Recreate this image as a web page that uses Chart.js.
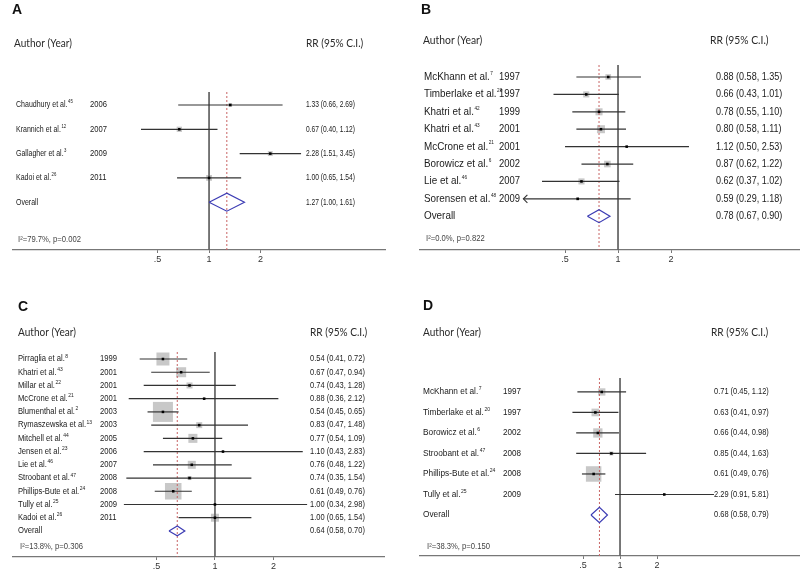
<!DOCTYPE html>
<html><head><meta charset="utf-8">
<script src="https://cdn.jsdelivr.net/npm/chart.js@4.4.1/dist/chart.umd.min.js"></script>
<style>
html,body{margin:0;padding:0;background:#fff;width:800px;height:577px;overflow:hidden}
.p{position:absolute}
canvas{display:block}
</style></head><body>
<div class="p" style="left:0;top:0"><canvas id="cA" width="400" height="288"></canvas></div>
<div class="p" style="left:400px;top:0"><canvas id="cB" width="400" height="288"></canvas></div>
<div class="p" style="left:0;top:288px"><canvas id="cC" width="400" height="289"></canvas></div>
<div class="p" style="left:400px;top:288px"><canvas id="cD" width="400" height="289"></canvas></div>
<script>
// ---------- shared axis ticks ----------
const tickValues = [0.5, 1, 2];
const tickLabels = [".5", "1", "2"];

// ---------- Panel A ----------
const aAuthors = ["Chaudhury et al.", "Krannich et al.", "Gallagher et al.", "Kadoi et al."];
const aRefs = ["45", "12", "3", "26"];
const aYears = ["2006", "2007", "2009", "2011"];
const aRR = [1.33, 0.67, 2.28, 1.00];
const aLow = [0.66, 0.40, 1.51, 0.65];
const aHigh = [2.69, 1.12, 3.45, 1.54];
const aWeights = [14, 28, 24, 34];
const aOverall = [1.27, 1.00, 1.61];
const aStats = "I\u00B2=79.7%, p=0.002";

// ---------- Panel B ----------
const bAuthors = ["McKhann et al.", "Timberlake et al.", "Khatri et al.", "Khatri et al.", "McCrone et al.", "Borowicz et al.", "Lie et al.", "Sorensen et al."];
const bRefs = ["7", "20", "42", "43", "21", "6", "46", "48"];
const bYears = ["1997", "1997", "1999", "2001", "2001", "2002", "2007", "2009"];
const bRR = [0.88, 0.66, 0.78, 0.80, 1.12, 0.87, 0.62, 0.59];
const bLow = [0.58, 0.43, 0.55, 0.58, 0.50, 0.62, 0.37, 0.29];
const bHigh = [1.35, 1.01, 1.10, 1.11, 2.53, 1.22, 1.02, 1.18];
const bWeights = [11.6, 13.5, 18.1, 23.2, 1.3, 15.8, 13.5, 2.9];
const bOverall = [0.78, 0.67, 0.90];
const bStats = "I\u00B2=0.0%, p=0.822";
const bArrowRows = [7];

// ---------- Panel C ----------
const cAuthors = ["Pirraglia et al.", "Khatri et al.", "Millar et al.", "McCrone et al.", "Blumenthal et al.", "Rymaszewska et al.", "Mitchell et al.", "Jensen et al.", "Lie et al.", "Stroobant et al.", "Phillips-Bute et al.", "Tully et al.", "Kadoi et al."];
const cRefs = ["8", "43", "22", "21", "2", "13", "44", "23", "46", "47", "24", "25", "26"];
const cYears = ["1999", "2001", "2001", "2001", "2003", "2003", "2005", "2006", "2007", "2008", "2008", "2009", "2011"];
const cRR = [0.54, 0.67, 0.74, 0.88, 0.54, 0.83, 0.77, 1.10, 0.76, 0.74, 0.61, 1.00, 1.00];
const cLow = [0.41, 0.47, 0.43, 0.36, 0.45, 0.47, 0.54, 0.43, 0.48, 0.35, 0.49, 0.34, 0.65];
const cHigh = [0.72, 0.94, 1.28, 2.12, 0.65, 1.48, 1.09, 2.83, 1.22, 1.54, 0.76, 2.98, 1.54];
const cWeights = [13.5, 8.0, 2.9, 0.3, 32.0, 2.9, 6.5, 0.3, 5.1, 1.3, 21.8, 0.3, 5.1];
const cOverall = [0.64, 0.58, 0.70];
const cStats = "I\u00B2=13.8%, p=0.306";

// ---------- Panel D ----------
const dAuthors = ["McKhann et al.", "Timberlake et al.", "Borowicz et al.", "Stroobant et al.", "Phillips-Bute et al.", "Tully et al."];
const dRefs = ["7", "20", "6", "47", "24", "25"];
const dYears = ["1997", "1997", "2002", "2008", "2008", "2009"];
const dRR = [0.71, 0.63, 0.66, 0.85, 0.61, 2.29];
const dLow = [0.45, 0.41, 0.44, 0.44, 0.49, 0.91];
const dHigh = [1.12, 0.97, 0.98, 1.63, 0.76, 5.81];
const dWeights = [11.6, 12.9, 18.8, 3.5, 52.4, 0.9];
const dOverall = [0.68, 0.58, 0.79];
const dStats = "I\u00B2=38.3%, p=0.150";

// ---------- layout / style (not data) ----------
const panels = [
  { id: "cA", letter: "A", authors: aAuthors, refs: aRefs, years: aYears, rr: aRR, lo: aLow, hi: aHigh, w: aWeights, ov: aOverall, stats: aStats, arrows: [],
    pad: { left: 13, right: 15, top: 92, bottom: 18 }, xmin: 0.0714, xmax: 10.68, ymin: -0.535, ymax: 5.967, boxK: 1.0,
    letterPos: [12, 10], headY: 43, headX: 14, rrHeadX: 306, xAuthor: 16, xYear: 90, xRR: 306, statsPos: [18, 240],
    fs: 9, supFs: 5.5, aSx: 0.78, ySx: 0.85, rSx: 0.74, headSx: 0.84 },
  { id: "cB", letter: "B", authors: bAuthors, refs: bRefs, years: bYears, rr: bRR, lo: bLow, hi: bHigh, w: bWeights, ov: bOverall, stats: bStats, arrows: bArrowRows,
    pad: { left: 20, right: 0, top: 65, bottom: 18 }, xmin: 0.0750, xmax: 10.81, ymin: -0.69, ymax: 9.94, boxK: 1.66,
    letterPos: [21, 10], headY: 40.5, headX: 23, rrHeadX: 310, xAuthor: 24, xYear: 99, xRR: 316, statsPos: [26, 239],
    fs: 10.5, supFs: 5, aSx: 0.94, ySx: 0.9, rSx: 0.86, headSx: 0.86 },
  { id: "cC", letter: "C", authors: cAuthors, refs: cRefs, years: cYears, rr: cRR, lo: cLow, hi: cHigh, w: cWeights, ov: cOverall, stats: cStats, arrows: [],
    pad: { left: 13, right: 16, top: 64, bottom: 0 }, xmin: 0.0914, xmax: 7.41, ymin: -0.53, ymax: 14.97, boxK: 3.54,
    letterPos: [18, 19.5], headY: 44.5, headX: 18, rrHeadX: 310, xAuthor: 18, xYear: 100, xRR: 310, statsPos: [20, 259],
    fs: 8.5, supFs: 5.5, aSx: 0.9, ySx: 0.9, rSx: 0.88, headSx: 0.84 },
  { id: "cD", letter: "D", authors: dAuthors, refs: dRefs, years: dYears, rr: dRR, lo: dLow, hi: dHigh, w: dWeights, ov: dOverall, stats: dStats, arrows: [],
    pad: { left: 20, right: 0, top: 90, bottom: 1 }, xmin: 0.0236, xmax: 29.1, ymin: -0.68, ymax: 8.0, boxK: 2.14,
    letterPos: [23, 18], headY: 44, headX: 23, rrHeadX: 311, xAuthor: 23, xYear: 103, xRR: 314, statsPos: [27, 259],
    fs: 9, supFs: 5.5, aSx: 0.92, ySx: 0.9, rSx: 0.83, headSx: 0.84 }
];

const fmt = (v) => v.toFixed(2);
const LABEL_FONT = "'Liberation Sans', Arial, sans-serif";
const HEAD_FONT = "Lato, 'Open Sans', sans-serif";

function drawText(ctx, txt, x, y, font, sx, color) {
  ctx.save();
  ctx.font = font;
  ctx.fillStyle = color || "#1a1a1a";
  ctx.textBaseline = "middle";
  ctx.textAlign = "left";
  ctx.translate(x, y);
  ctx.scale(sx, 1);
  ctx.fillText(txt, 0, 0);
  const w = ctx.measureText(txt).width * sx;
  ctx.restore();
  return w;
}

function makeTextPlugin(p) {
  return {
    id: "forestText" + p.letter,
    afterDraw(chart) {
      const ctx = chart.ctx;
      const ys = chart.scales.y;
      const xs = chart.scales.x;
      drawText(ctx, p.letter, p.letterPos[0], p.letterPos[1], "bold 14px " + LABEL_FONT, 1, "#111");
      drawText(ctx, "Author (Year)", p.headX, p.headY, "12px " + HEAD_FONT, p.headSx, "#2a2a2a");
      drawText(ctx, "RR (95% C.I.)", p.rrHeadX, p.headY, "12px " + HEAD_FONT, p.headSx, "#2a2a2a");
      const f = p.fs + "px " + LABEL_FONT;
      const sf = p.supFs + "px " + LABEL_FONT;
      p.authors.forEach((a, i) => {
        const py = ys.getPixelForValue(i);
        const w = drawText(ctx, a, p.xAuthor, py, f, p.aSx);
        drawText(ctx, p.refs[i], p.xAuthor + w + 0.5, py - p.fs * 0.35, sf, p.aSx);
        drawText(ctx, p.years[i], p.xYear, py, f, p.ySx);
        drawText(ctx, fmt(p.rr[i]) + " (" + fmt(p.lo[i]) + ", " + fmt(p.hi[i]) + ")", p.xRR, py, f, p.rSx);
      });
      const n = p.authors.length;
      const oy = ys.getPixelForValue(n);
      drawText(ctx, "Overall", p.xAuthor, oy, f, p.aSx);
      drawText(ctx, fmt(p.ov[0]) + " (" + fmt(p.ov[1]) + ", " + fmt(p.ov[2]) + ")", p.xRR, oy, f, p.rSx);
      drawText(ctx, p.stats, p.statsPos[0], p.statsPos[1], "8.5px " + LABEL_FONT, 0.9, "#444");
      // arrow marks for truncated confidence intervals
      p.arrows.forEach((i) => {
        const px = xs.getPixelForValue(p.lo[i]);
        const py = ys.getPixelForValue(i);
        ctx.save();
        ctx.strokeStyle = "#333";
        ctx.lineWidth = 1.1;
        ctx.beginPath();
        ctx.moveTo(px + 4, py - 4);
        ctx.lineTo(px, py);
        ctx.lineTo(px + 4, py + 4);
        ctx.stroke();
        ctx.restore();
      });
    }
  };
}

function buildChart(p) {
  const n = p.authors.length;
  const datasets = [];
  // weight boxes
  datasets.push({
    data: p.rr.map((v, i) => ({ x: v, y: i })),
    pointStyle: "rect",
    pointRadius: p.w.map((w) => p.boxK * Math.sqrt(w) / Math.SQRT2),
    pointBackgroundColor: "#c8c8c8",
    pointBorderWidth: 0,
    showLine: false,
    order: 6
  });
  // confidence interval lines
  p.rr.forEach((v, i) => {
    datasets.push({
      data: [{ x: p.lo[i], y: i }, { x: p.hi[i], y: i }],
      showLine: true, borderColor: "#333", borderWidth: 1.2, pointRadius: 0, order: 3
    });
  });
  // point estimates
  datasets.push({
    data: p.rr.map((v, i) => ({ x: v, y: i })),
    pointStyle: "rect", pointRadius: 1.8, pointBackgroundColor: "#000", pointBorderWidth: 0,
    showLine: false, order: 1
  });
  // null line at RR = 1
  datasets.push({
    data: [{ x: 1, y: p.ymin }, { x: 1, y: p.ymax }],
    showLine: true, borderColor: "#666", borderWidth: 1, pointRadius: 0, order: 5
  });
  // overall effect dashed line
  datasets.push({
    data: [{ x: p.ov[0], y: p.ymin }, { x: p.ov[0], y: p.ymax }],
    showLine: true, borderColor: "#c86464", borderWidth: 1, borderDash: [2, 2], pointRadius: 0, order: 4
  });
  // overall diamond
  const h = 0.37;
  datasets.push({
    data: [
      { x: p.ov[1], y: n }, { x: p.ov[0], y: n - h }, { x: p.ov[2], y: n },
      { x: p.ov[0], y: n + h }, { x: p.ov[1], y: n }
    ],
    showLine: true, borderColor: "#3c3cb4", borderWidth: 1.2, pointRadius: 0, fill: false, order: 2
  });

  new Chart(document.getElementById(p.id), {
    type: "scatter",
    data: { datasets },
    options: {
      responsive: false,
      animation: false,
      devicePixelRatio: 1,
      layout: { padding: p.pad, autoPadding: false },
      plugins: { legend: { display: false }, tooltip: { enabled: false } },
      scales: {
        x: {
          type: "logarithmic",
          min: p.xmin, max: p.xmax,
          afterBuildTicks: (s) => { s.ticks = tickValues.map((v) => ({ value: v })); },
          afterFit: (s) => { s.height = 20; s.paddingLeft = 0; s.paddingRight = 0; },
          ticks: {
            autoSkip: false, maxRotation: 0, padding: 1, color: "#333",
            font: { size: 9, family: LABEL_FONT },
            callback: (v) => tickLabels[tickValues.indexOf(v)]
          },
          grid: { display: true, drawOnChartArea: false, drawTicks: true, tickLength: 3, color: "#777", lineWidth: 1 },
          border: { display: true, color: "#777", width: 1.2 }
        },
        y: { type: "linear", display: false, reverse: true, min: p.ymin, max: p.ymax }
      }
    },
    plugins: [makeTextPlugin(p)]
  });
}

panels.forEach(buildChart);
</script>
</body></html>
